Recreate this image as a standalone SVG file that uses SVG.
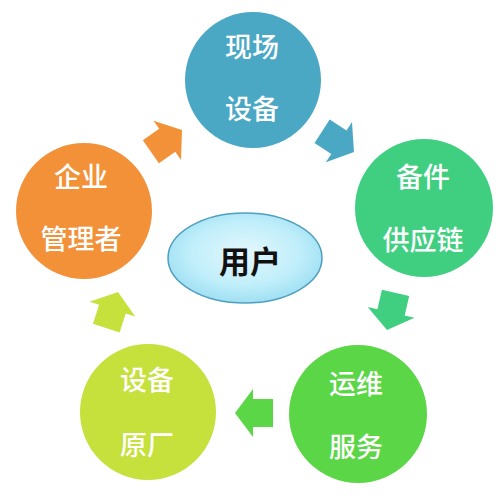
<svg xmlns="http://www.w3.org/2000/svg" width="500" height="500" viewBox="0 0 500 500">
<style>
.lbl{font-family:"Noto Sans CJK SC","Noto Sans",sans-serif;font-size:27px;fill:#ffffff;text-anchor:middle;dominant-baseline:central;font-weight:500}
.ctr{font-family:"Noto Sans CJK SC","Noto Sans",sans-serif;font-size:31px;fill:#111111;text-anchor:middle;dominant-baseline:central;font-weight:700}
</style>
<defs>
<radialGradient id="eg" cx="50%" cy="45%" r="60%">
<stop offset="0" stop-color="#e4f7fd"/>
<stop offset="0.6" stop-color="#bfeefa"/>
<stop offset="1" stop-color="#97dcf1"/>
</radialGradient>
<polygon id="arr" points="0,0 -18,-24 -18,-14 -38,-14 -38,14 -18,14 -18,24"/>
</defs>
<rect width="500" height="500" fill="#ffffff"/>
<g id="connectors">
<use href="#arr" fill="#f39139" transform="translate(182,130) rotate(-35)"/>
<use href="#arr" fill="#4aa8c5" transform="translate(354,152) rotate(33)"/>
<use href="#arr" fill="#40cf80" transform="translate(387,330) rotate(103)"/>
<use href="#arr" fill="#5ad646" transform="translate(235,413) rotate(180)"/>
<use href="#arr" fill="#c6e03c" transform="translate(118,292) rotate(-72)"/>
</g>
<g id="node-top">
<circle cx="253" cy="80" r="68" fill="#4aa8c5"/>
<text class="lbl" x="252" y="45">现场</text>
<text class="lbl" x="252" y="107">设备</text>
</g>
<g id="node-right">
<circle cx="424" cy="208" r="69" fill="#40cf80"/>
<text class="lbl" x="423" y="175">备件</text>
<text class="lbl" x="423" y="238">供应链</text>
</g>
<g id="node-bottom-right">
<circle cx="358" cy="414" r="69" fill="#5ad646"/>
<text class="lbl" x="356" y="382">运维</text>
<text class="lbl" x="356" y="445">服务</text>
</g>
<g id="node-bottom-left">
<circle cx="148" cy="412" r="68" fill="#c6e03c"/>
<text class="lbl" x="147" y="378">设备</text>
<text class="lbl" x="147" y="443">原厂</text>
</g>
<g id="node-left">
<circle cx="84" cy="211" r="68" fill="#f39139"/>
<text class="lbl" x="81" y="175">企业</text>
<text class="lbl" x="81" y="237">管理者</text>
</g>
<g id="node-center">
<ellipse cx="245" cy="258" rx="77" ry="45" fill="url(#eg)" stroke="#4f9fbf" stroke-width="1.5"/>
<text class="ctr" x="250" y="259">用户</text>
</g>
</svg>
